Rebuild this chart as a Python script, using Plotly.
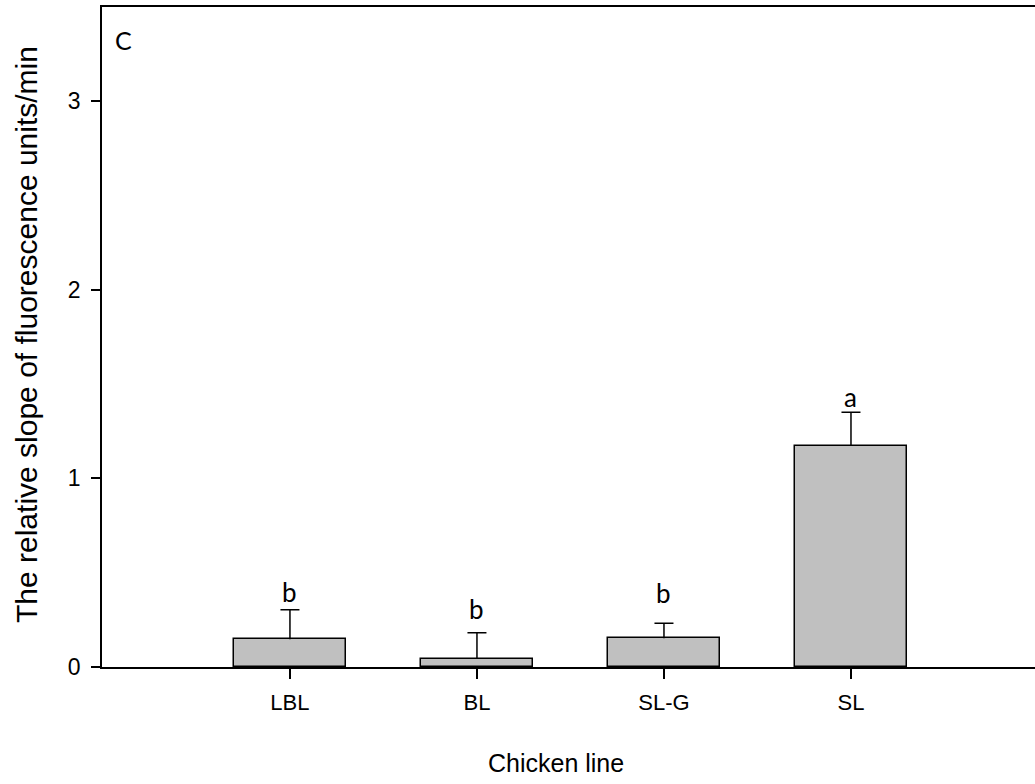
import plotly.graph_objects as go

# Chicken line data: mean relative slope and upper SE
lines = ["LBL", "BL", "SL-G", "SL"]
slope = [0.147, 0.044, 0.153, 1.172]
se_upper = [0.156, 0.138, 0.079, 0.179]
group_letters = ["b", "b", "b", "a"]
letter_y = [0.40, 0.31, 0.39, 1.43]

y_ticks = [0, 1, 2, 3]

x_pos = list(range(len(lines)))
bar_tops = [s + e for s, e in zip(slope, se_upper)]

# plot area in pixels
L, R, T, B = 102, 1035, 7, 667


def px_x(px):
    return (px - L) / (R - L)


def px_y(py):
    return 1 - (py - T) / (B - T)


fig = go.Figure()
# bars with the error stem only (no caps)
fig.add_trace(go.Bar(
    x=x_pos,
    y=slope,
    width=0.6,
    marker=dict(color="#C0C0C0", line=dict(color="black", width=1.5)),
    error_y=dict(type="data", symmetric=False, array=se_upper,
                 arrayminus=[0] * len(lines),
                 color="black", thickness=1.5, width=0),
    showlegend=False,
    hoverinfo="skip",
))
# cap at the upper end of each error bar
fig.add_trace(go.Scatter(
    x=x_pos,
    y=bar_tops,
    mode="markers",
    marker=dict(size=1, opacity=0),
    error_y=dict(type="data", symmetric=True, array=[0] * len(lines),
                 color="black", thickness=1.5, width=9.5),
    showlegend=False,
    hoverinfo="skip",
))

for xp, yl, txt in zip(x_pos, letter_y, group_letters):
    fig.add_annotation(x=xp, y=yl, text=txt, showarrow=False,
                       xref="x", yref="y", xanchor="center", yanchor="middle",
                       font=dict(family="Lato, Open Sans", size=26, color="black"))

# panel label
fig.add_annotation(x=px_x(123), y=px_y(40), xref="paper", yref="paper",
                   text="C", showarrow=False, xanchor="center", yanchor="middle",
                   font=dict(family="Lato, Open Sans", size=25, color="black"))

# axis titles
fig.add_annotation(x=px_x(556), y=px_y(763), xref="paper", yref="paper",
                   text="Chicken line", showarrow=False,
                   xanchor="center", yanchor="middle", font=dict(size=25))
fig.add_annotation(x=px_x(26), y=px_y(335), xref="paper", yref="paper",
                   text="The relative slope of fluorescence units/min",
                   textangle=-90, showarrow=False,
                   xanchor="center", yanchor="middle", font=dict(size=30))

fig.update_layout(
    width=1035, height=784,
    margin=dict(l=L, r=1035 - R, t=T, b=784 - B),
    plot_bgcolor="white", paper_bgcolor="white",
    font=dict(family="Arial, Liberation Sans", size=22, color="black"),
    bargap=0,
)

fig.update_xaxes(
    range=[-1.005, 3.984],
    tickmode="array", tickvals=x_pos, ticktext=lines,
    ticks="outside", ticklen=10, tickwidth=1.5, tickcolor="black",
    showline=True, linecolor="black", linewidth=1.5, mirror=True,
    showgrid=False, zeroline=False,
    tickfont=dict(size=22),
    ticklabelstandoff=5,
)
fig.update_yaxes(
    range=[0, 3.5],
    tickmode="array", tickvals=y_ticks,
    ticks="outside", ticklen=9, tickwidth=1.5, tickcolor="black",
    showline=True, linecolor="black", linewidth=1.5,
    showgrid=False, zeroline=False,
    tickfont=dict(size=23),
    ticklabelstandoff=6,
)

fig.write_html("out.html")
